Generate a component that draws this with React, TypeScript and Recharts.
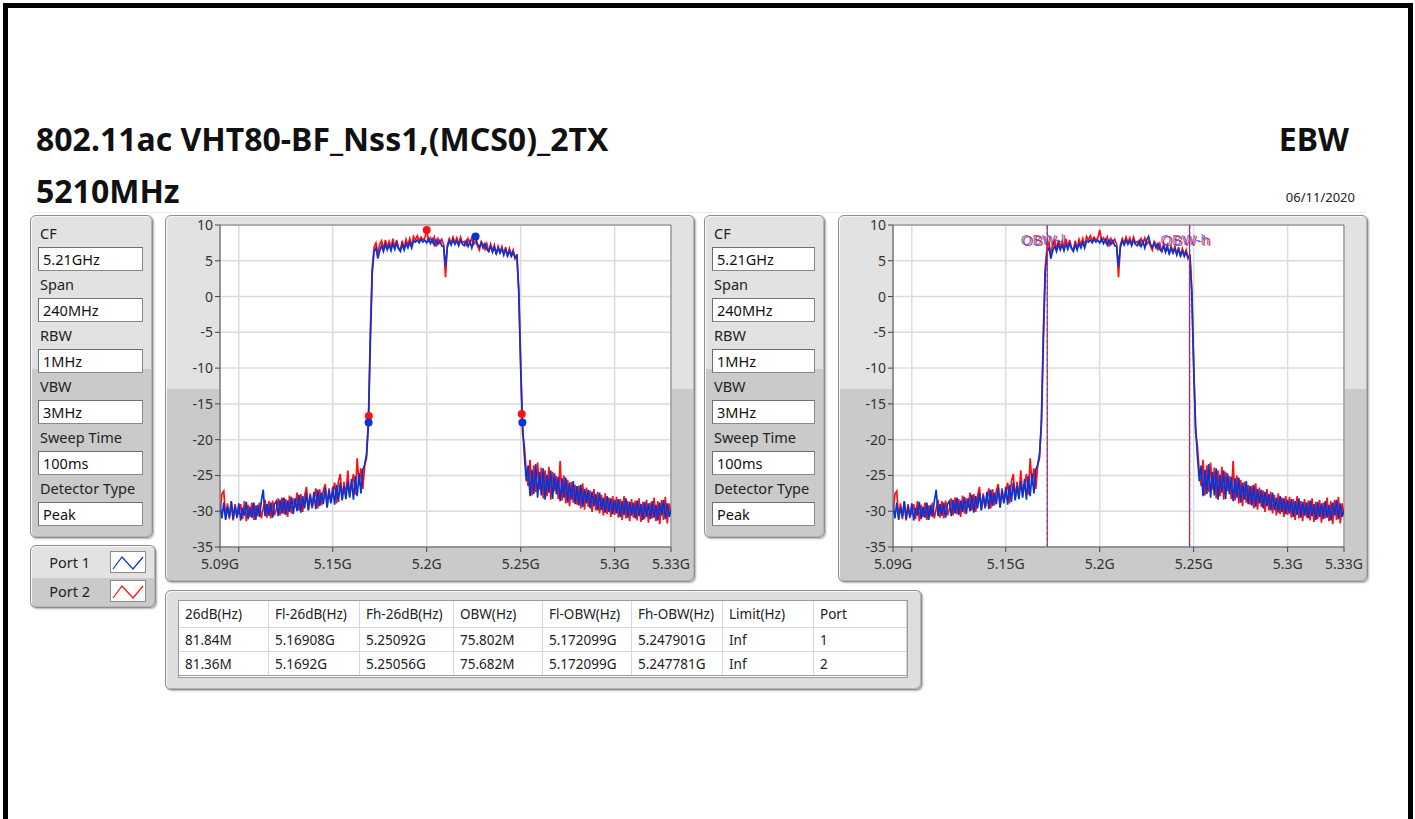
import React from 'react';
import {
  LineChart,
  Line,
  XAxis,
  YAxis,
  CartesianGrid,
  ReferenceDot,
  ReferenceLine,
  ReferenceArea,
} from 'recharts';

// --- sweep definition (GHz) ---
const FREQ_START = 5.09;
const FREQ_STEP = 0.001;
const X_TICKS = [5.09, 5.1, 5.15, 5.2, 5.25, 5.3, 5.33];
const Y_TICKS = [10, 5, 0, -5, -10, -15, -20, -25, -30, -35];

// Port 1 trace (dBm), one value per MHz from 5.090 to 5.330 GHz
const PORT1 = [
  -29.0, -31.0, -28.8, -31.2, -29.4, -30.8, -28.6, -31.1, -29.3, -30.9,
  -28.9, -31.3, -29.5, -30.6, -28.7, -31.1, -29.4, -30.9, -28.8, -31.2,
  -29.1, -30.8, -28.6, -27.0, -30.7, -29.0, -30.6, -28.8, -30.9, -29.0,
  -28.6, -30.7, -28.4, -30.3, -28.1, -30.5, -28.5, -30.1, -28.0, -30.4,
  -28.2, -30.0, -27.7, -30.2, -27.9, -29.6, -27.4, -29.9, -27.8, -29.4,
  -27.3, -29.7, -27.0, -29.3, -27.4, -29.0, -26.7, -29.5, -27.1, -28.9,
  -26.6, -29.1, -26.3, -28.7, -26.0, -28.5, -26.5, -28.3, -25.8, -28.1,
  -25.5, -28.4, -25.1, -27.9, -24.7, -27.5, -24.2, -23.5, -22.0, -17.8,
  -6.5, 3.2, 6.3, 6.8, 5.3, 6.4, 7.1, 6.3, 7.3, 6.5,
  7.2, 6.4, 7.4, 6.6, 7.5, 6.7, 6.3, 7.3, 6.5, 7.4,
  6.8, 7.6, 6.8, 7.8, 7.6, 7.9, 7.5, 8.0, 7.6, 7.9,
  7.5, 8.1, 7.4, 8.0, 7.2, 7.9, 7.3, 7.8, 7.1, 7.0,
  4.2, 6.9, 7.8, 7.2, 7.9, 7.3, 7.8, 7.1, 7.9, 7.3,
  7.1, 7.8, 7.0, 7.7, 6.8, 7.9, 8.4, 7.3, 6.9, 7.5,
  6.8, 7.4, 6.6, 6.3, 7.1, 6.2, 6.9, 6.0, 6.8, 6.1,
  6.7, 5.8, 6.6, 5.7, 6.4, 5.6, 6.2, 5.4, 5.7, 0.5,
  -10.0, -17.9, -22.3, -25.8, -23.6, -27.9, -24.2, -27.6, -23.4, -28.1,
  -24.5, -27.8, -24.0, -28.4, -24.9, -27.4, -24.3, -28.3, -24.7, -27.6,
  -25.2, -28.6, -25.4, -28.1, -25.3, -28.8, -26.0, -28.4, -25.8, -29.0,
  -26.5, -29.2, -26.3, -29.4, -26.9, -28.9, -27.0, -29.6, -27.3, -29.3,
  -27.6, -29.9, -27.4, -29.8, -28.1, -30.2, -27.9, -30.1, -28.2, -30.4,
  -28.4, -30.3, -28.3, -30.8, -28.6, -30.5, -28.2, -30.9, -28.7, -30.6,
  -28.8, -31.0, -28.5, -30.7, -29.0, -31.2, -28.7, -30.8, -28.9, -31.1,
  -28.6, -30.9, -29.1, -31.3, -28.8, -30.6, -28.4, -31.1, -28.9, -30.8,
  -29.8,
];

// Port 2 trace (dBm), same sweep
const PORT2 = [
  -30.4, -27.6, -27.2, -30.9, -28.9, -31.1, -28.7, -31.3, -29.0, -30.7,
  -30.2, -29.0, -31.1, -28.6, -31.4, -29.1, -30.8, -28.8, -31.2, -29.2,
  -30.7, -28.8, -31.0, -29.6, -28.4, -30.9, -28.6, -31.0, -28.5, -30.6,
  -29.7, -28.2, -30.6, -28.1, -30.4, -28.3, -30.8, -27.8, -30.3, -28.2,
  -29.5, -27.4, -29.9, -27.6, -30.1, -27.9, -26.6, -29.8, -27.5, -29.6,
  -28.4, -26.8, -29.6, -26.9, -29.2, -27.1, -26.2, -29.4, -26.8, -28.8,
  -27.4, -26.0, -28.9, -25.9, -24.8, -28.3, -25.9, -28.0, -24.3, -27.8,
  -26.3, -24.8, -27.7, -22.6, -26.4, -24.0, -26.9, -23.6, -22.5, -17.0,
  -5.0, 4.0, 6.9, 7.5, 6.0, 7.3, 7.8, 6.6, 7.9, 6.9,
  7.7, 6.8, 8.1, 6.9, 7.9, 6.8, 6.6, 7.8, 6.7, 8.0,
  7.2, 8.1, 7.0, 8.4, 7.9, 8.5, 7.8, 8.3, 7.9, 8.2,
  9.3, 7.8, 8.2, 7.6, 8.3, 7.0, 8.1, 7.5, 8.0, 7.3,
  2.7, 7.2, 8.1, 7.4, 8.3, 7.5, 8.2, 7.3, 8.3, 7.5,
  7.7, 7.2, 8.1, 7.4, 8.2, 7.3, 7.7, 7.1, 6.5, 7.7,
  7.3, 6.6, 7.4, 6.2, 7.3, 6.4, 7.2, 5.9, 7.0, 6.2,
  7.0, 6.0, 6.9, 5.6, 6.7, 5.8, 6.5, 5.3, 5.9, 1.0,
  -9.0, -19.0, -21.0, -24.6, -26.5, -22.8, -27.8, -23.6, -27.3, -23.2,
  -27.0, -23.9, -28.2, -24.3, -27.9, -23.8, -28.4, -24.5, -27.2, -25.1,
  -28.3, -23.0, -28.5, -25.0, -28.9, -25.6, -29.3, -25.9, -28.8, -26.3,
  -29.1, -26.4, -29.6, -26.1, -29.8, -26.7, -29.4, -27.1, -30.1, -26.9,
  -29.9, -27.3, -30.3, -27.7, -30.6, -27.5, -30.4, -28.1, -30.8, -27.9,
  -30.5, -28.0, -30.9, -28.3, -31.2, -27.9, -31.0, -28.6, -31.4, -28.3,
  -30.9, -28.5, -31.3, -28.2, -31.5, -28.7, -31.1, -28.4, -31.6, -28.8,
  -31.0, -28.1, -31.4, -28.6, -31.8, -28.4, -31.2, -28.0, -31.7, -28.9,
  -30.4,
];

// peak and -26dB points
const PORT1_MARKERS = [
  { f: 5.16908, db: -17.6 },
  { f: 5.25092, db: -17.6 },
  { f: 5.226, db: 8.4 },
];
const PORT2_MARKERS = [
  { f: 5.1692, db: -16.7 },
  { f: 5.25056, db: -16.4 },
  { f: 5.2, db: 9.3 },
];

const OBW_PORT1 = [5.172099, 5.247901];
const OBW_PORT2 = [5.172099, 5.247781];
const OBW_LABELS = ['OBW-l', 'OBW-h'];

const SETTINGS = [
  ['CF', '5.21GHz'],
  ['Span', '240MHz'],
  ['RBW', '1MHz'],
  ['VBW', '3MHz'],
  ['Sweep Time', '100ms'],
  ['Detector Type', 'Peak'],
];

const TABLE_HEAD = ['26dB(Hz)', 'Fl-26dB(Hz)', 'Fh-26dB(Hz)', 'OBW(Hz)', 'Fl-OBW(Hz)', 'Fh-OBW(Hz)', 'Limit(Hz)', 'Port'];
const TABLE_ROWS = [
  ['81.84M', '5.16908G', '5.25092G', '75.802M', '5.172099G', '5.247901G', 'Inf', '1'],
  ['81.36M', '5.1692G', '5.25056G', '75.682M', '5.172099G', '5.247781G', 'Inf', '2'],
];
const COL_WIDTHS = [90, 91, 94, 89, 89, 91, 91, 93];

const BLUE = '#0a34d2';
const RED = '#ff1010';
const FONT = '"Noto Sans", "Open Sans", sans-serif';

const chartData = PORT1.map((p1, i) => ({
  f: +(FREQ_START + i * FREQ_STEP).toFixed(3),
  p1,
  p2: PORT2[i],
}));

const panelStyle = (left: number, top: number, width: number, height: number, split: number): React.CSSProperties => ({
  position: 'absolute',
  left,
  top,
  width,
  height,
  boxSizing: 'border-box',
  border: '1px solid #8f8f8f',
  borderRadius: 6,
  background: `linear-gradient(#e2e2e2 0px, #e2e2e2 ${split}px, #cacaca ${split}px)`,
  boxShadow: 'inset 1px 1px 0 #f6f6f6, inset -1px -1px 0 #b4b4b4, 1px 1px 2px rgba(0,0,0,0.3)',
});

const ObwLabel = ({ viewBox, text }: any) => {
  if (!viewBox) return null;
  const { x, y } = viewBox;
  return (
    <g style={{ fontFamily: FONT, fontSize: 15 }}>
      <text x={x - 3} y={y + 21} fill={RED} fillOpacity={0.85} textAnchor="middle">{text}</text>
      <text x={x - 5} y={y + 20} fill="#3a55e6" fillOpacity={0.75} textAnchor="middle">{text}</text>
    </g>
  );
};

const Spectrum = ({ left, markers, obw }: { left: number; markers?: boolean; obw?: boolean }) => (
  <div style={panelStyle(left, 215, 530, 367, 173)}>
    <div style={{ position: 'absolute', left: -1, top: -1 }}>
      <LineChart width={530} height={367} data={chartData} margin={{ top: 10, right: 24, left: 0, bottom: 0 }}>
        <CartesianGrid stroke="#dcdcdc" strokeWidth={1.5} fill="#ffffff" />
        <XAxis
          dataKey="f"
          type="number"
          domain={[5.09, 5.33]}
          ticks={X_TICKS}
          interval={0}
          allowDataOverflow
          height={35}
          tickSize={5}
          tickMargin={7}
          tickFormatter={(v: number) => (v === 5.1 ? '' : `${v}G`)}
          axisLine={{ stroke: '#7a7a7a' }}
          tickLine={{ stroke: '#444' }}
          tick={{ fill: '#333', fontSize: 14, fontFamily: FONT }}
        />
        <YAxis
          type="number"
          domain={[-35, 10]}
          ticks={Y_TICKS}
          interval={0}
          allowDataOverflow
          width={55}
          tickSize={5}
          tickMargin={2}
          axisLine={{ stroke: '#7a7a7a' }}
          tickLine={{ stroke: '#444' }}
          tick={{ fill: '#333', fontSize: 14, fontFamily: FONT }}
        />
        <Line dataKey="p2" type="linear" stroke={RED} strokeWidth={1.7} dot={false} isAnimationActive={false} />
        <Line dataKey="p1" type="linear" stroke={BLUE} strokeWidth={1.7} dot={false} isAnimationActive={false} />
        {markers && PORT2_MARKERS.map((m, i) => (
          <ReferenceDot key={`r${i}`} x={m.f} y={m.db} r={4} fill={RED} stroke="none" />
        ))}
        {markers && PORT1_MARKERS.map((m, i) => (
          <ReferenceDot key={`b${i}`} x={m.f} y={m.db} r={4} fill={BLUE} stroke="none" />
        ))}
        {obw && OBW_PORT2.map((f, i) => (
          <ReferenceLine key={`or${i}`} x={f} stroke={RED} strokeWidth={1.2} />
        ))}
        {obw && OBW_PORT1.map((f, i) => (
          <ReferenceLine
            key={`ob${i}`}
            x={f}
            stroke="#3a55e6"
            strokeWidth={1.2}
            strokeDasharray="3 3"
            label={<ObwLabel text={OBW_LABELS[i]} />}
          />
        ))}
        <ReferenceArea x1={5.09} x2={5.33} y1={-35} y2={10} fill="none" stroke="#7a7a7a" />
      </LineChart>
    </div>
  </div>
);

const SettingsPanel = ({ left, width }: { left: number; width: number }) => (
  <div style={panelStyle(left, 215, width, 323, 153)}>
    {SETTINGS.map(([label, value], k) => (
      <React.Fragment key={label}>
        <div
          style={{
            position: 'absolute', left: 9, top: 7 + 51 * k, height: 20, lineHeight: '20px',
            fontSize: 14.5, color: '#222', whiteSpace: 'nowrap',
          }}
        >
          {label}
        </div>
        <div
          style={{
            position: 'absolute', left: 7, top: 31 + 51 * k, width: width - 18, height: 24,
            boxSizing: 'border-box', background: '#fff', border: '1px solid #8a8a8a',
            borderTopColor: '#6e6e6e', borderLeftColor: '#6e6e6e',
            paddingLeft: 4, lineHeight: '22px', fontSize: 14.5, color: '#111',
          }}
        >
          {value}
        </div>
      </React.Fragment>
    ))}
  </div>
);

const LegendIcon = ({ color }: { color: string }) => (
  <svg width={36} height={22} style={{ position: 'absolute', left: 77, top: 3 }}>
    <rect x={0.5} y={0.5} width={35} height={21} fill="#fff" stroke="#8a8a8a" />
    <polyline points="3,18 12,6 23,18 33,6" fill="none" stroke={color} strokeWidth={1.2} />
  </svg>
);

const LegendPanel = () => (
  <div style={panelStyle(30, 545, 126, 63, 32)}>
    {[['Port 1', BLUE], ['Port 2', RED]].map(([name, color], k) => (
      <div key={name} style={{ position: 'absolute', left: 2, top: 2 + 29 * k, width: 120, height: 28 }}>
        <div style={{ position: 'absolute', left: 0, width: 57, textAlign: 'right', lineHeight: '28px', fontSize: 14.5, color: '#222' }}>
          {name}
        </div>
        <LegendIcon color={color} />
      </div>
    ))}
  </div>
);

const ResultTable = () => {
  const xs = COL_WIDTHS.reduce<number[]>((acc, w, i) => [...acc, acc[i] + w], [0]);
  const rowTops = [0, 27, 51];
  const rowH = [27, 24, 24];
  return (
    <div style={{ ...panelStyle(165, 590, 757, 100, 100), background: '#dedede' }}>
      <div
        style={{
          position: 'absolute', left: 12, top: 9, width: 730, height: 78, boxSizing: 'border-box',
          background: '#fff', border: '1px solid #9a9a9a', borderBottom: '3px double #9a9a9a', overflow: 'hidden',
        }}
      >
        {[TABLE_HEAD, ...TABLE_ROWS].map((row, r) =>
          row.map((cell, c) => (
            <div
              key={`${r}-${c}`}
              style={{
                position: 'absolute', left: xs[c], top: rowTops[r], width: COL_WIDTHS[c], height: rowH[r],
                boxSizing: 'border-box', borderRight: '1px solid #d6d6d6', borderBottom: '1px solid #d6d6d6',
                paddingLeft: 6, lineHeight: `${rowH[r]}px`, fontSize: 13.5, color: '#222', whiteSpace: 'nowrap',
              }}
            >
              {cell}
            </div>
          )),
        )}
        {COL_WIDTHS.map((w, c) => (
          <div
            key={`tail${c}`}
            style={{
              position: 'absolute', left: xs[c], top: 75, width: w, height: 6,
              boxSizing: 'border-box', borderRight: '1px solid #d6d6d6',
            }}
          />
        ))}
      </div>
    </div>
  );
};

export default function App() {
  return (
    <div
      style={{
        position: 'absolute', left: 0, top: 0, width: 1415, height: 819, overflow: 'hidden',
        background: '#fff', fontFamily: FONT,
      }}
    >
      <div
        style={{
          position: 'absolute', left: 3, top: 3, width: 1410, height: 840,
          boxSizing: 'border-box', border: '5px solid #000',
        }}
      />
      <svg width={1415} height={220} style={{ position: 'absolute', left: 0, top: 0 }}>
        <g style={{ fontFamily: FONT, fontWeight: 700 }} fill="#111">
          <text x={36} y={151} fontSize={32}>802.11ac VHT80-BF_Nss1,(MCS0)_2TX</text>
          <text x={36} y={203} fontSize={32}>5210MHz</text>
          <text x={1349} y={151} fontSize={32} textAnchor="end">EBW</text>
        </g>
        <text x={1355} y={202} fontSize={13} fill="#222" textAnchor="end" style={{ fontFamily: FONT }}>06/11/2020</text>
        <line x1={30} x2={1366} y1={212.5} y2={212.5} stroke="#ececec" />
      </svg>
      <SettingsPanel left={30} width={123} />
      <LegendPanel />
      <Spectrum left={165} markers />
      <SettingsPanel left={704} width={121} />
      <Spectrum left={838} obw />
      <ResultTable />
    </div>
  );
}
